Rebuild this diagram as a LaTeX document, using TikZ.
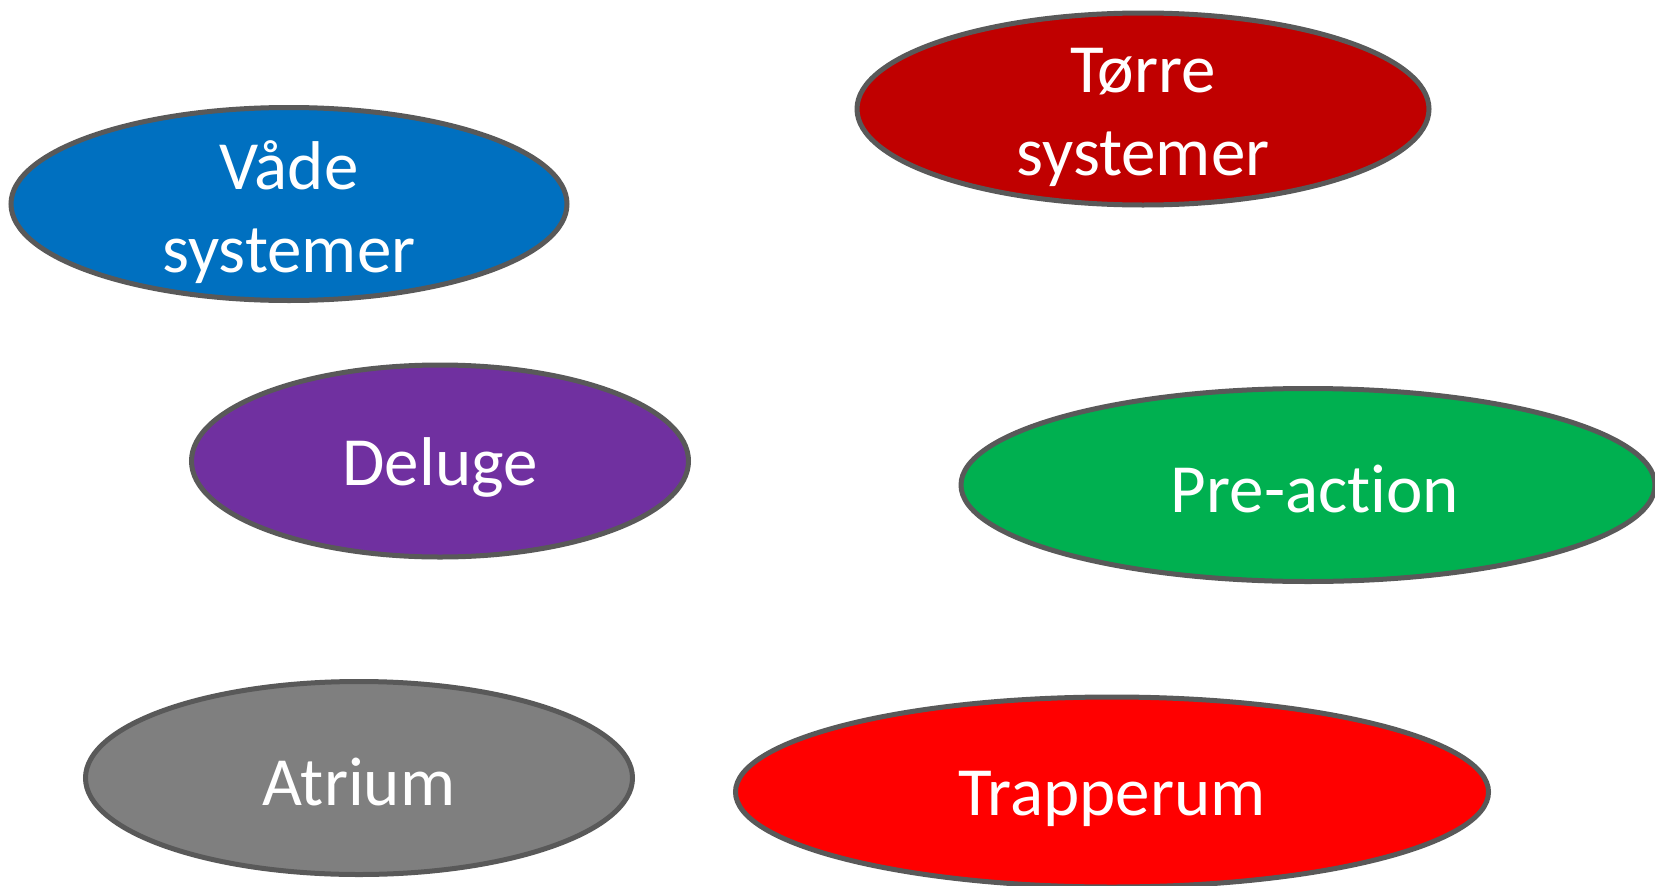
\documentclass[tikz,border=0pt]{standalone}
\usepackage{fontspec}
\setmainfont{Carlito}[Ligatures=NoCommon]
\usetikzlibrary{shapes.geometric}
\definecolor{cblue}{HTML}{0070C0}
\definecolor{cdred}{HTML}{C00000}
\definecolor{cpurple}{HTML}{7030A0}
\definecolor{cgreen}{HTML}{00B050}
\definecolor{cgray}{HTML}{7F7F7F}
\definecolor{cred}{HTML}{FF0000}
\definecolor{cborder}{HTML}{595959}
\tikzset{
  oval/.style={ellipse, draw=cborder, line width=5pt, inner sep=0pt},
  txt/.style={text=white, align=center, font=\fontsize{69}{83}\selectfont, inner sep=0pt}
}
\begin{document}
\begin{tikzpicture}[x=1pt,y=-1pt]
\useasboundingbox[fill=white] (0,0) rectangle (1655,886);
\node[oval, fill=cblue, minimum width=556pt, minimum height=193pt] (vade) at (289,204) {};
\node[txt] (vadet) at ([yshift=-8pt]vade.center) {Våde\\systemer};
\node[oval, fill=cdred, minimum width=572pt, minimum height=192pt] (torre) at (1143,109) {};
\node[txt] (torret) at ([yshift=-8pt]torre.center) {Tørre\\systemer};
\node[oval, fill=cpurple, minimum width=497pt, minimum height=192pt] (deluge) at (440,461) {};
\node[txt] (deluget) at ([yshift=-6pt]deluge.center) {Deluge};
\node[oval, fill=cgreen, minimum width=694pt, minimum height=193pt] (pre) at (1308,485) {};
\node[txt] (pret) at ([xshift=7pt,yshift=-4pt]pre.center) {Pre-action};
\node[oval, fill=cgray, minimum width=547pt, minimum height=193pt] (atrium) at (359,778) {};
\node[txt] (atriumt) at ([yshift=-4pt]atrium.center) {Atrium};
\node[oval, fill=cred, minimum width=753pt, minimum height=190pt] (trap) at (1112,792) {};
\node[txt] (trapt) at ([yshift=-7pt]trap.center) {Trapperum};
\end{tikzpicture}
\end{document}
